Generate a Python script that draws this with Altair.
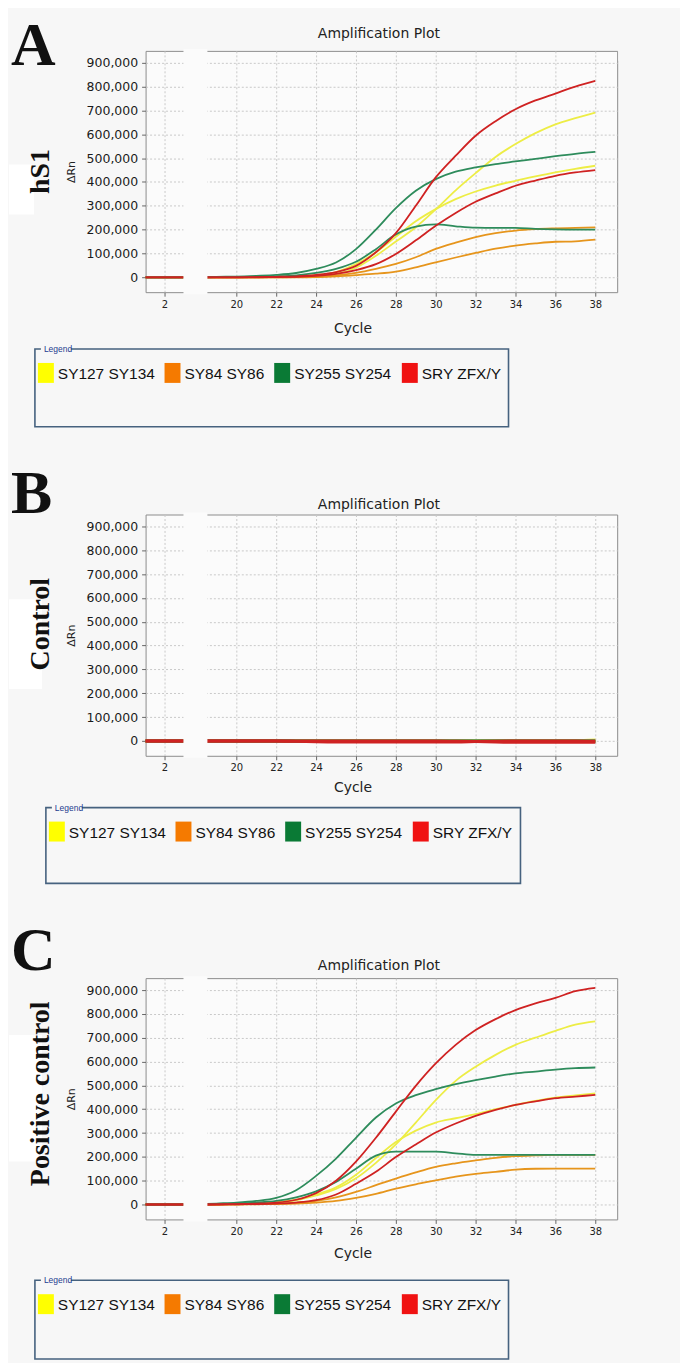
import altair as alt
import pandas as pd

# ---------------------------------------------------------------- data
PAIRS = ["SY127 SY134", "SY84 SY86", "SY255 SY254", "SRY ZFX/Y"]
LINE_COLORS = ["#eded45", "#e6951c", "#2e8c5c", "#cf2222"]
LEGEND_COLORS = ["#ffff00", "#f57a00", "#0a7a35", "#f01212"]

CYCLES_LEFT = [1, 2, 3]
CYCLES_RIGHT = [18, 19, 20, 21, 22, 23, 24, 25, 26, 27, 28,
                29, 30, 31, 32, 33, 34, 35, 36, 37, 38]
LEFT_VALUES = [0, 0, 0]          # ΔRn (thousands) at cycles 1-3

X_TICKS = [2, 20, 22, 24, 26, 28, 30, 32, 34, 36, 38]
Y_TICKS = [0, 100000, 200000, 300000, 400000, 500000,
           600000, 700000, 800000, 900000]

# ΔRn in thousands, cycles 18..38, two wells per primer pair
# Panel A  (hS1)
A_Y1 = [0, 0, 0, 0, 1, 2, 5, 14, 40, 90, 150, 210, 285, 365, 437, 505, 559, 605, 642, 668, 691]
A_Y2 = [0, 0, 0, 1, 2, 4, 9, 22, 55, 105, 170, 235, 286, 328, 360, 385, 405, 423, 440, 455, 468]
A_O1 = [0, 0, 0, 0, 0, 1, 3, 8, 18, 35, 56, 84, 119, 145, 168, 185, 196, 202, 205, 207, 209]
A_O2 = [0, 0, 0, 0, 0, 0, 1, 4, 9, 15, 24, 42, 63, 83, 102, 120, 133, 142, 149, 151, 158]
A_G1 = [1, 2, 3, 6, 10, 18, 35, 62, 118, 200, 290, 363, 412, 443, 461, 475, 486, 497, 508, 518, 526]
A_G2 = [0, 1, 1, 2, 4, 8, 18, 35, 65, 118, 180, 213, 222, 214, 208, 207, 207, 203, 201, 200, 200]
A_R1 = [0, 0, 0, 1, 2, 4, 10, 22, 48, 105, 185, 300, 419, 510, 594, 655, 705, 742, 771, 800, 824]
A_R2 = [0, 0, 0, 0, 1, 2, 6, 14, 30, 55, 98, 155, 216, 270, 317, 352, 384, 406, 426, 440, 450]

# Panel B  (Control)
B_Y1 = [0, 0, 0, 0, 0, 0, 0, 0, 0, 0, 0, 0, 0, 0, 0, 0, 0, 0, 0, 1, 4]
B_Y2 = [0, 0, 0, 0, 0, -1, -1, -1, -1, -1, -1, -1, -1, -1, 0, 0, 0, 0, 0, 0, 1]
B_O1 = [0, 0, 0, 0, 0, 0, -1, -1, -1, -1, -1, -1, -1, -1, -1, -1, -1, -1, -1, -1, -1]
B_O2 = [0, 0, 0, 0, 0, 0, 0, 0, 0, 0, 0, 0, 0, 0, 0, 0, 0, 0, 0, 0, 0]
B_G1 = [0, 0, 0, 0, 0, -1, -1, -1, -1, -1, -1, -1, -1, -1, -1, -1, -1, -1, -1, -1, -1]
B_G2 = [0, 0, 0, 0, 0, 0, 0, 0, 0, 0, 0, 0, 0, 0, 0, 0, 0, 0, 0, 0, 0]
B_R1 = [0, 0, 0, 0, 0, -2, -4, -5, -5, -5, -5, -5, -5, -5, -3, -1, 0, 0, 0, 0, -1]
B_R2 = [0, 0, 0, 0, 0, 0, 0, 0, 0, 0, 0, 0, 0, -1, -3, -5, -6, -6, -6, -6, -6]

# Panel C  (Positive control)
C_Y1 = [0, 1, 2, 4, 8, 18, 38, 65, 110, 175, 252, 344, 438, 519, 578, 628, 670, 700, 729, 755, 769]
C_Y2 = [0, 1, 2, 4, 9, 20, 42, 72, 125, 195, 262, 310, 344, 362, 379, 400, 418, 435, 449, 458, 466]
C_O1 = [0, 0, 1, 2, 4, 8, 15, 30, 53, 81, 109, 135, 158, 173, 185, 196, 203, 206, 208, 208, 208]
C_O2 = [0, 0, 0, 1, 2, 4, 8, 15, 28, 45, 67, 85, 101, 117, 129, 137, 146, 150, 151, 151, 151]
C_G1 = [2, 4, 8, 15, 28, 60, 120, 193, 280, 365, 424, 459, 484, 505, 522, 537, 550, 558, 566, 572, 575]
C_G2 = [1, 2, 4, 8, 15, 30, 55, 95, 150, 205, 222, 222, 222, 215, 208, 208, 208, 208, 208, 208, 208]
C_R1 = [0, 1, 2, 4, 8, 20, 48, 100, 180, 280, 390, 498, 592, 670, 732, 778, 816, 844, 867, 895, 909]
C_R2 = [0, 0, 1, 2, 4, 8, 18, 42, 87, 137, 199, 252, 302, 340, 372, 397, 418, 433, 446, 453, 460]

PANELS = {
    "A": [(PAIRS[0], A_Y1), (PAIRS[0], A_Y2), (PAIRS[1], A_O1), (PAIRS[1], A_O2),
          (PAIRS[2], A_G1), (PAIRS[2], A_G2), (PAIRS[3], A_R1), (PAIRS[3], A_R2)],
    "B": [(PAIRS[0], B_Y1), (PAIRS[0], B_Y2), (PAIRS[1], B_O1), (PAIRS[1], B_O2),
          (PAIRS[2], B_G1), (PAIRS[2], B_G2), (PAIRS[3], B_R1), (PAIRS[3], B_R2)],
    "C": [(PAIRS[0], C_Y1), (PAIRS[0], C_Y2), (PAIRS[1], C_O1), (PAIRS[1], C_O2),
          (PAIRS[2], C_G1), (PAIRS[2], C_G2), (PAIRS[3], C_R1), (PAIRS[3], C_R2)],
}

# ---------------------------------------------------------------- layout / style
W, H = 473, 242
X_DOMAIN = [1.05, 2.95, 18.55, 39.1]     # broken cycle axis
X_RANGE = [0, 38, 62, W]
Y_DOMAIN = [-62500, 950000]
BG = "#f7f7f7"
VIEW_BG = "#fbfbfb"
SANS = "Liberation Sans, Arial, sans-serif"
SERIF = "Liberation Serif, Times New Roman, serif"
LEG_DX = [3, 130, 240, 368]       # swatch offsets inside the legend box
LEG_FONT = 15.5

STYLE = {
    "A": dict(side="hS1", letter_y=14, side_y=121, title_y=-13, cycle_y=283, sw=1.8,
              box=(-111, 299, 364, 377), white=(-137, 114, -112, 164)),
    "B": dict(side="Control", letter_y=-2, side_y=110, title_y=-6, cycle_y=278, sw=3.0,
              box=(-100, 294, 376, 370), white=(-137, 85, -104, 175)),
    "C": dict(side="Positive control", letter_y=-8, side_y=116, title_y=-8, cycle_y=281, sw=1.8,
              box=(-111, 303, 364, 382), white=(-137, 57, -104, 184)),
}


def make_df(curves):
    rows = []
    for i, (pair, vals) in enumerate(curves):
        for c, v in zip(CYCLES_LEFT, LEFT_VALUES):
            rows.append({"pair": pair, "line": f"{i}-L", "cycle": c, "dRn": v * 1000})
        for c, v in zip(CYCLES_RIGHT, vals):
            rows.append({"pair": pair, "line": f"{i}-R", "cycle": c, "dRn": v * 1000})
    return pd.DataFrame(rows)


def one(text=""):
    return pd.DataFrame({"t": [text]})


def rect_at(x, y, x2, y2, **kw):
    return alt.Chart(one()).mark_rect(**kw).encode(
        x=alt.value(x), x2=alt.value(x2), y=alt.value(y), y2=alt.value(y2))


def text_at(text, x, y, **kw):
    return alt.Chart(one(text)).mark_text(**kw).encode(
        x=alt.value(x), y=alt.value(y), text="t:N")


def panel(key, extend_right=False):
    s = STYLE[key]
    df = make_df(PANELS[key])
    xs = alt.Scale(domain=X_DOMAIN, range=X_RANGE, nice=False, zero=False)
    ys = alt.Scale(domain=Y_DOMAIN, nice=False, zero=False)

    lines = alt.Chart(df).mark_line(clip=True, strokeWidth=s["sw"], interpolate="monotone").encode(
        x=alt.X("cycle:Q", scale=xs,
                axis=alt.Axis(values=X_TICKS, title=None, labelFontSize=10, labelColor="#222",
                              labelPadding=3, tickSize=4, labelFlush=False)),
        y=alt.Y("dRn:Q", scale=ys,
                axis=alt.Axis(values=Y_TICKS, format=",d", title="ΔRn", labelFontSize=12.5,
                              labelColor="#1a1a1a", labelPadding=4, tickSize=4,
                              titleFontSize=11, titleFontWeight="normal", titlePadding=10,
                              titleColor="#222")),
        color=alt.Color("pair:N", scale=alt.Scale(domain=PAIRS, range=LINE_COLORS), legend=None),
        detail="line:N",
    )

    gap = alt.Chart(one()).mark_rect(fill=VIEW_BG).encode(
        x=alt.datum(X_DOMAIN[1]), x2=alt.datum(X_DOMAIN[2]),
        y=alt.value(-2), y2=alt.value(H + 2))

    wx, wy, wx2, wy2 = s["white"]
    layers = [rect_at(wx, wy, wx2, wy2, fill="#ffffff")]
    if extend_right:
        layers.append(rect_at(W + 1, 0, W + 62, 10, fill=BG))
    layers += [lines, gap]

    layers.append(text_at(key, -135, s["letter_y"], font=SERIF, fontWeight="bold", fontSize=62,
                          align="left", baseline="alphabetic", color="#111111"))
    layers.append(text_at(s["side"], -105, s["side_y"], font=SERIF, fontWeight="bold",
                          fontSize=28, angle=270, align="center", baseline="middle",
                          color="#111111"))
    layers.append(text_at("Amplification Plot", 234, s["title_y"], font="DejaVu Sans",
                          fontSize=14, align="center", baseline="alphabetic", color="#222222"))
    layers.append(text_at("Cycle", 208, s["cycle_y"], font="DejaVu Sans", fontSize=14,
                          align="center", baseline="alphabetic", color="#222222"))

    # legend box
    bx, by, bx2, by2 = s["box"]
    layers.append(rect_at(bx, by, bx2, by2, fill="transparent", stroke="#46627f",
                          strokeWidth=1.6))
    layers.append(rect_at(bx + 6, by - 5, bx + 36, by + 5, fill=BG))
    layers.append(text_at("Legend", bx + 9, by, font=SANS, fontSize=8.5, align="left",
                          baseline="middle", color="#1d3c8f"))
    for pair, col, dx in zip(PAIRS, LEGEND_COLORS, LEG_DX):
        layers.append(rect_at(bx + dx, by + 14, bx + dx + 16, by + 34, fill=col))
        layers.append(text_at(pair, bx + dx + 20, by + 30, font=SANS, fontSize=LEG_FONT,
                              align="left", baseline="alphabetic", color="#111111"))

    return alt.layer(*layers).properties(width=W, height=H)


chart = alt.vconcat(panel("A", extend_right=True), panel("B"), panel("C"),
                    spacing=223, bounds="flush").resolve_scale(
    x="independent", y="independent", color="independent"
).properties(
    padding={"top": 4, "left": 0, "right": 0, "bottom": 0}, background=BG
).configure(font="DejaVu Sans").configure_view(
    stroke="#8d8d8d", strokeWidth=1, fill=VIEW_BG
).configure_axis(
    domain=False, tickColor="#666666", grid=True, gridColor="#c9c9c9", gridDash=[2, 2],
    gridWidth=1, labelFont="DejaVu Sans", titleFont="DejaVu Sans"
)

chart.save("out.html", embed_options={"renderer": "svg", "actions": False})
